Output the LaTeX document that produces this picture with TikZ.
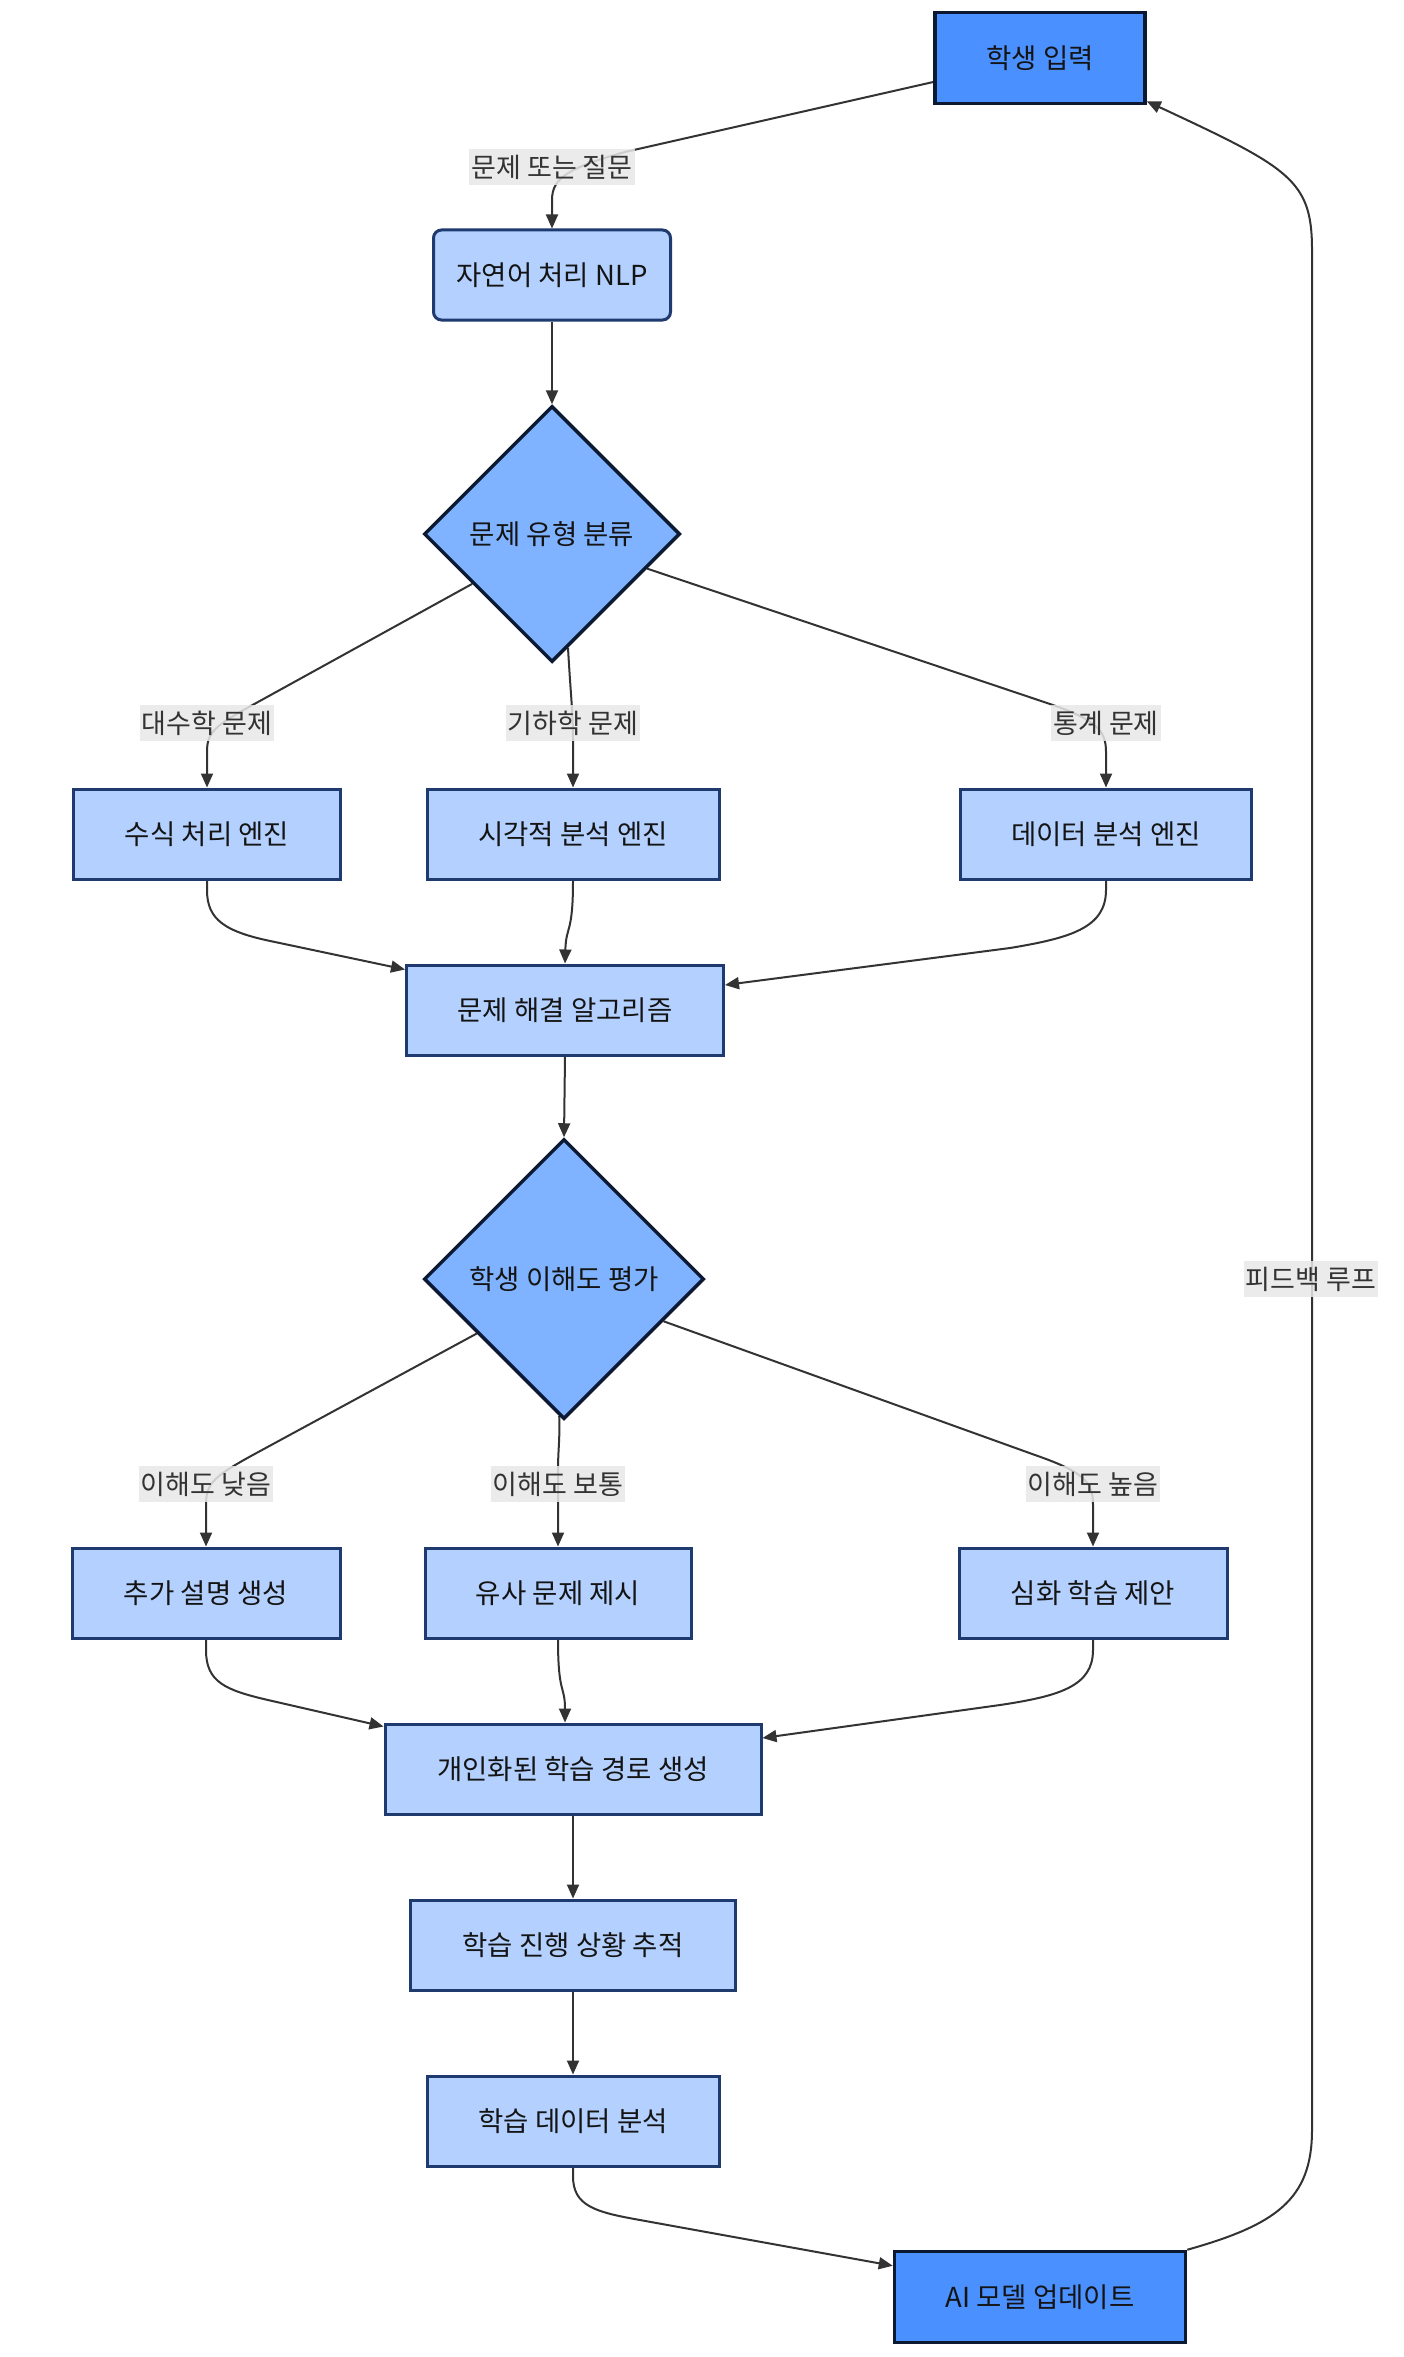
\documentclass[tikz,border=0pt]{standalone}
\usepackage{fontspec}
\setmainfont{Noto Sans CJK KR}
\usetikzlibrary{shapes.geometric,arrows.meta,calc}
\definecolor{darkfill}{RGB}{74,144,255}
\definecolor{lightfill}{RGB}{179,208,255}
\definecolor{diafill}{RGB}{128,179,255}
\definecolor{lightborder}{RGB}{30,58,110}
\definecolor{darkborder}{RGB}{12,25,50}
\definecolor{labelbg}{RGB}{232,232,232}
\definecolor{edgecol}{RGB}{51,51,51}
\definecolor{txt}{RGB}{20,20,20}
\pgfdeclarelayer{bg}
\pgfsetlayers{bg,main}
\tikzset{
  lightbox/.style={draw=lightborder, fill=lightfill, line width=3pt, minimum height=90pt, inner sep=0pt, font=\fontsize{27.5}{32}\selectfont, text=txt},
  darkbox/.style={draw=darkborder, fill=darkfill, line width=3.5pt, minimum height=91pt, inner sep=0pt, font=\fontsize{27.5}{32}\selectfont, text=txt},
  decision/.style={diamond, aspect=1, draw=darkborder, fill=diafill, line width=3.5pt, inner sep=0pt, font=\fontsize{27.5}{32}\selectfont, text=txt},
  elabel/.style={fill=labelbg, fill opacity=0.85, text opacity=1, text=edgecol, inner xsep=2pt, inner ysep=6pt, font=\fontsize{27}{32}\selectfont},
  edge/.style={draw=edgecol, line width=2pt, -{Triangle[length=14pt,width=12pt]}},
}
\begin{document}
\begin{tikzpicture}[x=1pt,y=-1pt]
\useasboundingbox (0,0) rectangle (1404,2357);
% nodes
\node[darkbox, minimum width=210pt] (in) at (1040,58) {학생 입력};
\node[lightbox, minimum width=237pt, rounded corners=8pt] (nlp) at (552,275) {자연어 처리 NLP};
\node[decision, minimum width=256pt, minimum height=256pt] (d1) at (552,534) {문제 유형 분류};
\node[lightbox, minimum width=267pt] (b1) at (207,834) {수식 처리 엔진};
\node[lightbox, minimum width=292pt] (b2) at (573,834) {시각적 분석 엔진};
\node[lightbox, minimum width=291pt] (b3) at (1106,834) {데이터 분석 엔진};
\node[lightbox, minimum width=317pt] (alg) at (565,1010) {문제 해결 알고리즘};
\node[decision, minimum width=280pt, minimum height=280pt] (d2) at (564,1279) {학생 이해도 평가};
\node[lightbox, minimum width=268pt] (b4) at (206,1593) {추가 설명 생성};
\node[lightbox, minimum width=266pt] (b5) at (558,1593) {유사 문제 제시};
\node[lightbox, minimum width=268pt] (b6) at (1093,1593) {심화 학습 제안};
\node[lightbox, minimum width=376pt] (path) at (573,1769) {개인화된 학습 경로 생성};
\node[lightbox, minimum width=325pt] (track) at (573,1945) {학습 진행 상황 추적};
\node[lightbox, minimum width=292pt] (data) at (573,2121) {학습 데이터 분석};
\node[darkbox, minimum width=291pt] (ai) at (1040,2297) {AI 모델 업데이트};
% edge labels
\node[elabel] (l0) at (552,167) {문제 또는 질문};
\node[elabel] (l1) at (207,723) {대수학 문제};
\node[elabel] (l2) at (573,723) {기하학 문제};
\node[elabel] (l3) at (1106,723) {통계 문제};
\node[elabel] (l4) at (206,1484) {이해도 낮음};
\node[elabel] (l5) at (558,1484) {이해도 보통};
\node[elabel] (l6) at (1093,1484) {이해도 높음};
\node[elabel] (l7) at (1311,1279) {피드백 루프};
% connectors
\begin{pgfonlayer}{bg}
\fill[white] (0,0) rectangle (1404,2357);
\draw[edge] ($(in.west)+(0,24)$) -- (625,152) .. controls (568,168) and (552,178) .. (552,200) -- (nlp.north);
\draw[edge] (nlp.south) -- (d1.north);
\draw[edge] (d1.212) -- (258,702) .. controls (214,726) and (207,732) .. (207,752) -- (b1.north);
\draw[edge] (d1.278) .. controls (571,700) and (573,712) .. (573,740) -- (b2.north);
\draw[edge] (d1.340) -- (1050,704) .. controls (1096,720) and (1106,730) .. (1106,752) -- (b3.north);
\draw[edge] (b1.south) -- (207,890) .. controls (207,920) and (225,932) .. (275,942) -- ($(alg.north west)+(0,6)$);
\draw[edge] (b2.south) .. controls (573,935) and (566,925) .. (alg.north);
\draw[edge] (b3.south) -- (1106,890) .. controls (1106,928) and (1070,938) .. (1010,948) -- ($(alg.east)+(0,-25)$);
\draw[edge] (alg.south) -- (d2.north);
\draw[edge] (d2.212) -- (262,1450) .. controls (214,1476) and (206,1482) .. (206,1505) -- (b4.north);
\draw[edge] (d2.268) .. controls (560,1440) and (558,1450) .. (558,1470) -- (b5.north);
\draw[edge] (d2.337) -- (1035,1455) .. controls (1084,1472) and (1093,1482) .. (1093,1505) -- (b6.north);
\draw[edge] (b4.south) -- (206,1650) .. controls (206,1682) and (225,1690) .. (268,1700) -- ($(path.north west)+(0,4)$);
\draw[edge] (b5.south) .. controls (558,1695) and (565,1685) .. ($(path.north)+(-8,0)$);
\draw[edge] (b6.south) -- (1093,1650) .. controls (1093,1686) and (1060,1696) .. (1000,1705) -- ($(path.east)+(0,-31)$);
\draw[edge] (path.south) -- (track.north);
\draw[edge] (track.south) -- (data.north);
\draw[edge] (data.south) -- (573,2176) .. controls (573,2206) and (595,2212) .. (640,2220) -- ($(ai.north west)+(0,16)$);
\draw[edge] (ai.north east) .. controls (1275,2225) and (1312,2200) .. (1312,2130) -- (1312,250) .. controls (1312,180) and (1290,168) .. ($(in.south east)+(0,-4)$);
\end{pgfonlayer}
\end{tikzpicture}
\end{document}
